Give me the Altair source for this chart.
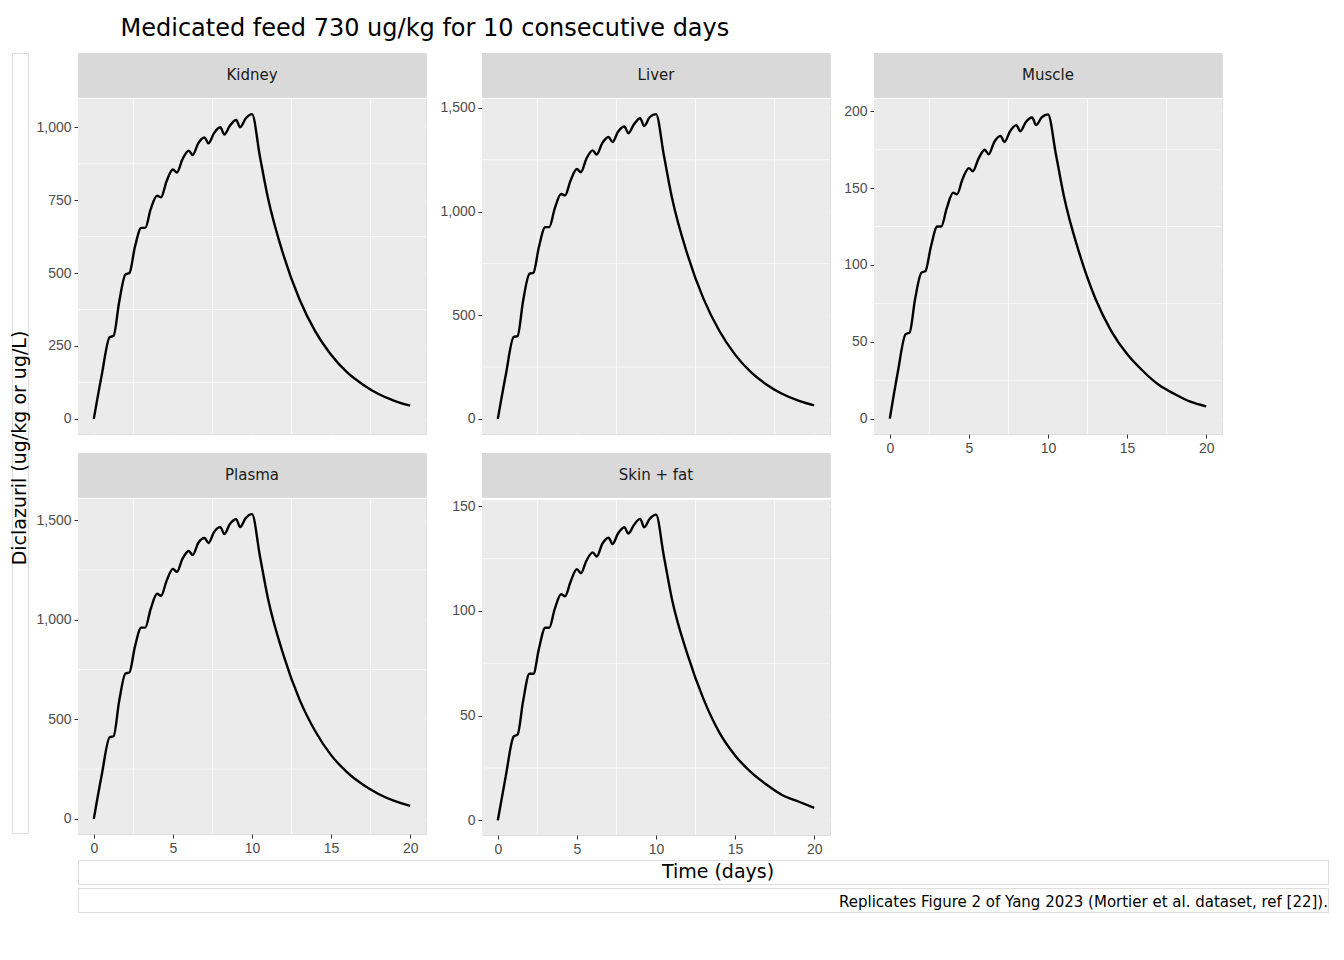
import altair as alt
import pandas as pd

times = [0, 0.5] + [v for n in range(1, 10) for v in (n, n + 0.25, n + 0.6)] + [10, 10.5, 11, 12, 13, 14, 15, 16, 17, 18, 19, 20]
times = times[:41]

kidney = [0,150, 280,285,400, 495,500,590, 655,655,720, 765,760,815, 855,845,890, 920,905,945, 965,945,980, 1000,975,1005, 1025,1000,1030, 1045, 900,760,560,410,300,220,160,118,85,62,45]
liver = [0,210, 395,400,570, 700,705,830, 925,925,1015, 1085,1078,1150, 1205,1190,1255, 1295,1275,1330, 1360,1335,1385, 1410,1378,1420, 1450,1412,1455, 1470, 1270,1070,790,580,425,310,225,165,120,88,65]
muscle = [0,30, 55,56,78, 95,96,112, 125,125,137, 147,146,156, 163,161,169, 175,172,180, 184,180,187, 191,187,193, 196,191,196, 198, 172,145,107,78,57,42,31,22,16,11,8]
plasma = [0,220, 410,415,590, 730,735,865, 960,960,1055, 1130,1120,1195, 1255,1240,1305, 1345,1325,1385, 1410,1385,1440, 1465,1430,1480, 1505,1465,1510, 1530, 1320,1110,820,600,440,320,235,172,125,90,65]
skin = [0,21, 40,41,57, 70,70,82, 92,92,101, 108,107,114, 120,118,124, 128,126,132, 135,132,137, 140,137,141, 144,140,144, 146, 126,106,79,58,42,31,23,17,12,9,6]

x_ticks = [0, 5, 10, 15, 20]
x_minor = [2.5, 7.5, 12.5, 17.5]
panels = {
    "Kidney": (kidney, [-52, 1097], [0, 250, 500, 750, 1000]),
    "Liver": (liver, [-73, 1543], [0, 500, 1000, 1500]),
    "Muscle": (muscle, [-10, 208], [0, 50, 100, 150, 200]),
    "Plasma": (plasma, [-76, 1606], [0, 500, 1000, 1500]),
    "Skin + fat": (skin, [-7, 153], [0, 50, 100, 150]),
}

W, H, SH = 348, 335, 44
GRAY = "#EBEBEB"


def panel(name, show_x):
    vals, ydom, yt = panels[name]
    df = pd.DataFrame({"t": times[:len(vals)], "v": vals})
    ymin = [(a + b) / 2 for a, b in zip(yt[:-1], yt[1:])]
    if ydom[1] > yt[-1] + (yt[1] - yt[0]) / 2:
        ymin.append(yt[-1] + (yt[1] - yt[0]) / 2)
    xs = alt.Scale(domain=[-1, 21], nice=False, zero=False)
    ys = alt.Scale(domain=ydom, nice=False, zero=False)
    xaxis = alt.Axis(values=x_ticks, title=None, grid=True, gridColor="white", gridWidth=1.4,
                     domain=False, labels=show_x, ticks=show_x, tickColor="#333333", tickSize=4,
                     labelColor="#4D4D4D", labelFontSize=14, labelPadding=3)
    yaxis = alt.Axis(values=yt, title=None, grid=True, gridColor="white", gridWidth=1.4,
                     domain=False, tickColor="#333333", tickSize=4, labelColor="#4D4D4D",
                     labelFontSize=14, labelPadding=3)
    bg = alt.Chart(alt.Data(values=[{"a": 1}])).mark_rect(fill=GRAY).encode(
        x=alt.value(0), x2=alt.value(W), y=alt.value(0), y2=alt.value(H))
    mx = alt.Chart(pd.DataFrame({"t": x_minor})).mark_rule(color="white", strokeWidth=0.7).encode(
        x=alt.X("t:Q", scale=xs, axis=xaxis))
    my = alt.Chart(pd.DataFrame({"v": ymin})).mark_rule(color="white", strokeWidth=0.7).encode(
        y=alt.Y("v:Q", scale=ys, axis=yaxis))
    line = alt.Chart(df).mark_line(color="black", strokeWidth=2.4, interpolate="monotone").encode(
        x=alt.X("t:Q", scale=xs, axis=xaxis), y=alt.Y("v:Q", scale=ys, axis=yaxis))
    plot = alt.layer(bg, mx, my, line).properties(width=W, height=H)
    sd = alt.Data(values=[{"label": name}])
    strip = alt.layer(
        alt.Chart(sd).mark_rect(fill="#D9D9D9").encode(
            x=alt.value(0), x2=alt.value(W), y=alt.value(0), y2=alt.value(SH)),
        alt.Chart(sd).mark_text(fontSize=15, color="#1A1A1A", font="DejaVu Sans").encode(
            x=alt.value(W / 2), y=alt.value(SH / 2), text="label:N"),
    ).properties(width=W, height=SH)
    return alt.vconcat(strip, plot, spacing=0)


col1 = alt.vconcat(panel("Kidney", False), panel("Plasma", True), spacing=17)
col2 = alt.vconcat(panel("Liver", False), panel("Skin + fat", True), spacing=17)
col3 = panel("Muscle", True)
grid = alt.hconcat(col1, col2, col3, spacing=12)

ytitle = alt.Chart(alt.Data(values=[{"s": "Diclazuril (ug/kg or ug/L)"}])).mark_text(
    font="DejaVu Sans", fontSize=19, angle=270).encode(
    text="s:N", x=alt.value(8), y=alt.value(395)).properties(width=16, height=780)
xtitle = alt.Chart(alt.Data(values=[{"s": "Time (days)"}])).mark_text(
    font="DejaVu Sans", fontSize=19).encode(
    text="s:N", x=alt.value(640), y=alt.value(12)).properties(width=1250, height=24)
caption = alt.Chart(alt.Data(values=[{"s": "Replicates Figure 2 of Yang 2023 (Mortier et al. dataset, ref [22])."}])).mark_text(
    font="DejaVu Sans", fontSize=15, align="right").encode(
    text="s:N", x=alt.value(1250), y=alt.value(14)).properties(width=1250, height=24)

right = alt.vconcat(grid, xtitle, caption, spacing=2)
chart = alt.hconcat(ytitle, right, spacing=4).properties(
    title=alt.Title("Medicated feed 730 ug/kg for 10 consecutive days", anchor="start",
                    fontSize=24, font="DejaVu Sans", fontWeight="normal", offset=12, dx=110)
).configure_view(strokeWidth=0).configure(padding={"left": 2, "top": 8, "right": 2, "bottom": 2})

chart.save("out.html", embed_options={"renderer": "svg", "actions": False})
